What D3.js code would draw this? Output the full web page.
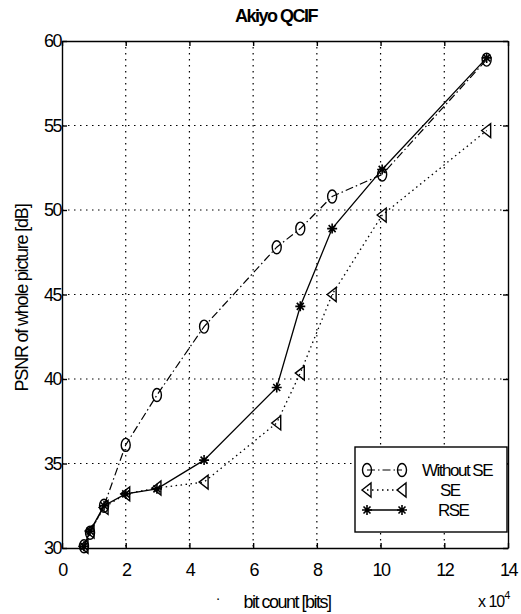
<!DOCTYPE html>
<html><head><meta charset="utf-8">
<script src="https://cdn.jsdelivr.net/npm/d3@7"></script>
<style>
body{margin:0;background:#fff;}
svg text{font-family:"Liberation Sans Narrow","Liberation Sans",Arial,sans-serif;fill:#000;}
</style></head>
<body><svg id="c" width="521" height="614"></svg>
<script>
const bitCount = [0.69, 0.88, 1.32, 2.0, 2.98, 4.46, 6.74, 7.48, 8.48, 10.05, 13.33];
const withoutSE = [30.1, 30.9, 32.5, 36.1, 39.05, 43.1, 47.8, 48.9, 50.8, 52.1, 58.9];
const SE = [30.1, 31.0, 32.4, 33.2, 33.55, 33.9, 37.4, 40.35, 45.0, 49.7, 54.7];
const RSE = [30.1, 31.0, 32.5, 33.2, 33.5, 35.2, 39.5, 44.3, 48.9, 52.4, 59.0];
const xTicks = [0, 2, 4, 6, 8, 10, 12, 14];
const yTicks = [30, 35, 40, 45, 50, 55, 60];
const seriesNames = ["Without SE", "SE", "RSE"];

const svg = d3.select("#c");
const L = 62, R = 508, T = 41, B = 548;
const x = d3.scaleLinear().domain([0, 14]).range([L, R]);
const y = d3.scaleLinear().domain([30, 60]).range([B, T]);
const FONT = '"Liberation Sans Narrow","Liberation Sans",Arial,sans-serif';

// grid
const g = svg.append("g");
g.selectAll(".gx").data(xTicks.slice(1, -1)).enter().append("line")
  .attr("x1", d => x(d)).attr("x2", d => x(d)).attr("y1", T).attr("y2", B)
  .attr("stroke", "#000").attr("stroke-width", 1.2).attr("stroke-dasharray", "1.5,4.5");
g.selectAll(".gy").data(yTicks.slice(1, -1)).enter().append("line")
  .attr("y1", d => y(d)).attr("y2", d => y(d)).attr("x1", L).attr("x2", R)
  .attr("stroke", "#000").attr("stroke-width", 1.2).attr("stroke-dasharray", "1.5,4.5");

// axes
const fs = "18px";
const axB = svg.append("g").attr("transform", `translate(0,${B})`)
  .call(d3.axisBottom(x).tickValues(xTicks).tickSizeInner(-5).tickSizeOuter(0).tickPadding(15));
const axT = svg.append("g").attr("transform", `translate(0,${T})`)
  .call(d3.axisTop(x).tickValues(xTicks).tickSizeInner(-5).tickSizeOuter(0).tickFormat(""));
const axL = svg.append("g").attr("transform", `translate(${L},0)`)
  .call(d3.axisLeft(y).tickValues(yTicks).tickSizeInner(-5).tickSizeOuter(0).tickPadding(1));
const axR = svg.append("g").attr("transform", `translate(${R},0)`)
  .call(d3.axisRight(y).tickValues(yTicks).tickSizeInner(-5).tickSizeOuter(0).tickFormat(""));
[axB, axT, axL, axR].forEach(a => {
  a.select(".domain").attr("stroke", "#000").attr("stroke-width", 1.4);
  a.selectAll(".tick line").attr("stroke", "#000").attr("stroke-width", 1.4);
  a.selectAll("text").attr("font-family", FONT)
    .attr("font-size", fs).attr("fill", "#000").style("letter-spacing", "-1.5px");
});

// lines
const line = d3.line().x(d => x(d[0])).y(d => y(d[1]));
const mk = arr => bitCount.map((b, i) => [b, arr[i]]);
const dW = mk(withoutSE), dS = mk(SE), dR = mk(RSE);
svg.append("path").datum(dW).attr("d", line).attr("fill", "none").attr("stroke", "#000")
  .attr("stroke-width", 1.2).attr("stroke-dasharray", "8,3,1.5,3");
svg.append("path").datum(dS).attr("d", line).attr("fill", "none").attr("stroke", "#000")
  .attr("stroke-width", 1.3).attr("stroke-dasharray", "1.5,3.5");
svg.append("path").datum(dR).attr("d", line).attr("fill", "none").attr("stroke", "#000")
  .attr("stroke-width", 1.3);

// markers
function circ(sel) {
  sel.append("ellipse").attr("rx", 4.5).attr("ry", 6.5).attr("fill", "none")
    .attr("stroke", "#000").attr("stroke-width", 1.4);
}
function tri(sel) {
  sel.append("path").attr("d", "M-5,0L4,-7L4,7Z").attr("fill", "none")
    .attr("stroke", "#000").attr("stroke-width", 1.4);
}
function star(sel) {
  sel.append("path").attr("d", "M-5,0H5M0,-5V5M-3.5,-3.5L3.5,3.5M-3.5,3.5L3.5,-3.5")
    .attr("stroke", "#000").attr("stroke-width", 1.6);
}
svg.append("g").selectAll("g").data(dW).enter().append("g")
  .attr("transform", d => `translate(${x(d[0])},${y(d[1])})`).call(circ);
svg.append("g").selectAll("g").data(dS).enter().append("g")
  .attr("transform", d => `translate(${x(d[0])},${y(d[1])})`).call(tri);
svg.append("g").selectAll("g").data(dR).enter().append("g")
  .attr("transform", d => `translate(${x(d[0])},${y(d[1])})`).call(star);

// legend
const lg = svg.append("g");
lg.append("rect").attr("x", 355).attr("y", 447).attr("width", 152).attr("height", 85)
  .attr("fill", "#fff").attr("stroke", "#000").attr("stroke-width", 1.4);
const rows = [470, 490, 510];
const lx1 = 367, lx2 = 402;
lg.append("line").attr("x1", lx1).attr("x2", lx2).attr("y1", rows[0]).attr("y2", rows[0])
  .attr("stroke", "#000").attr("stroke-width", 1.2).attr("stroke-dasharray", "8,3,1.5,3");
lg.append("line").attr("x1", lx1).attr("x2", lx2).attr("y1", rows[1]).attr("y2", rows[1])
  .attr("stroke", "#000").attr("stroke-width", 1.3).attr("stroke-dasharray", "1.5,3.5");
lg.append("line").attr("x1", lx1).attr("x2", lx2).attr("y1", rows[2]).attr("y2", rows[2])
  .attr("stroke", "#000").attr("stroke-width", 1.3);
[lx1, lx2].forEach(px => {
  lg.append("g").attr("transform", `translate(${px},${rows[0]})`).call(circ);
  lg.append("g").attr("transform", `translate(${px},${rows[1]})`).call(tri);
  lg.append("g").attr("transform", `translate(${px},${rows[2]})`).call(star);
});
const labX = [422, 440, 438];
seriesNames.forEach((n, i) => {
  lg.append("text").attr("x", labX[i]).attr("y", rows[i]).attr("dy", "0.35em")
    .attr("font-size", "17px").style("letter-spacing", "-1.5px").text(n);
});

// titles
svg.append("text").attr("x", 276).attr("y", 22).attr("text-anchor", "middle")
  .attr("font-size", "18px").attr("font-weight", "bold").style("letter-spacing", "-1.5px").text("Akiyo QCIF");
svg.append("text").attr("transform", "translate(28,298) rotate(-90)").attr("text-anchor", "middle")
  .attr("font-size", "18px").style("letter-spacing", "-1.2px").text("PSNR of whole picture [dB]");
svg.append("text").attr("x", 287).attr("y", 608).attr("text-anchor", "middle")
  .attr("font-size", "18px").style("letter-spacing", "-1.5px").text("bit count [bits]");
svg.append("text").attr("x", 218).attr("y", 603).attr("text-anchor", "middle")
  .attr("font-size", "14px").text("·");
const xe = svg.append("text").attr("x", 478).attr("y", 607).attr("font-size", "16px").style("letter-spacing", "-1px");
xe.append("tspan").text("x 10");
xe.append("tspan").attr("dy", "-8").attr("font-size", "11px").text("4");
</script></body></html>
